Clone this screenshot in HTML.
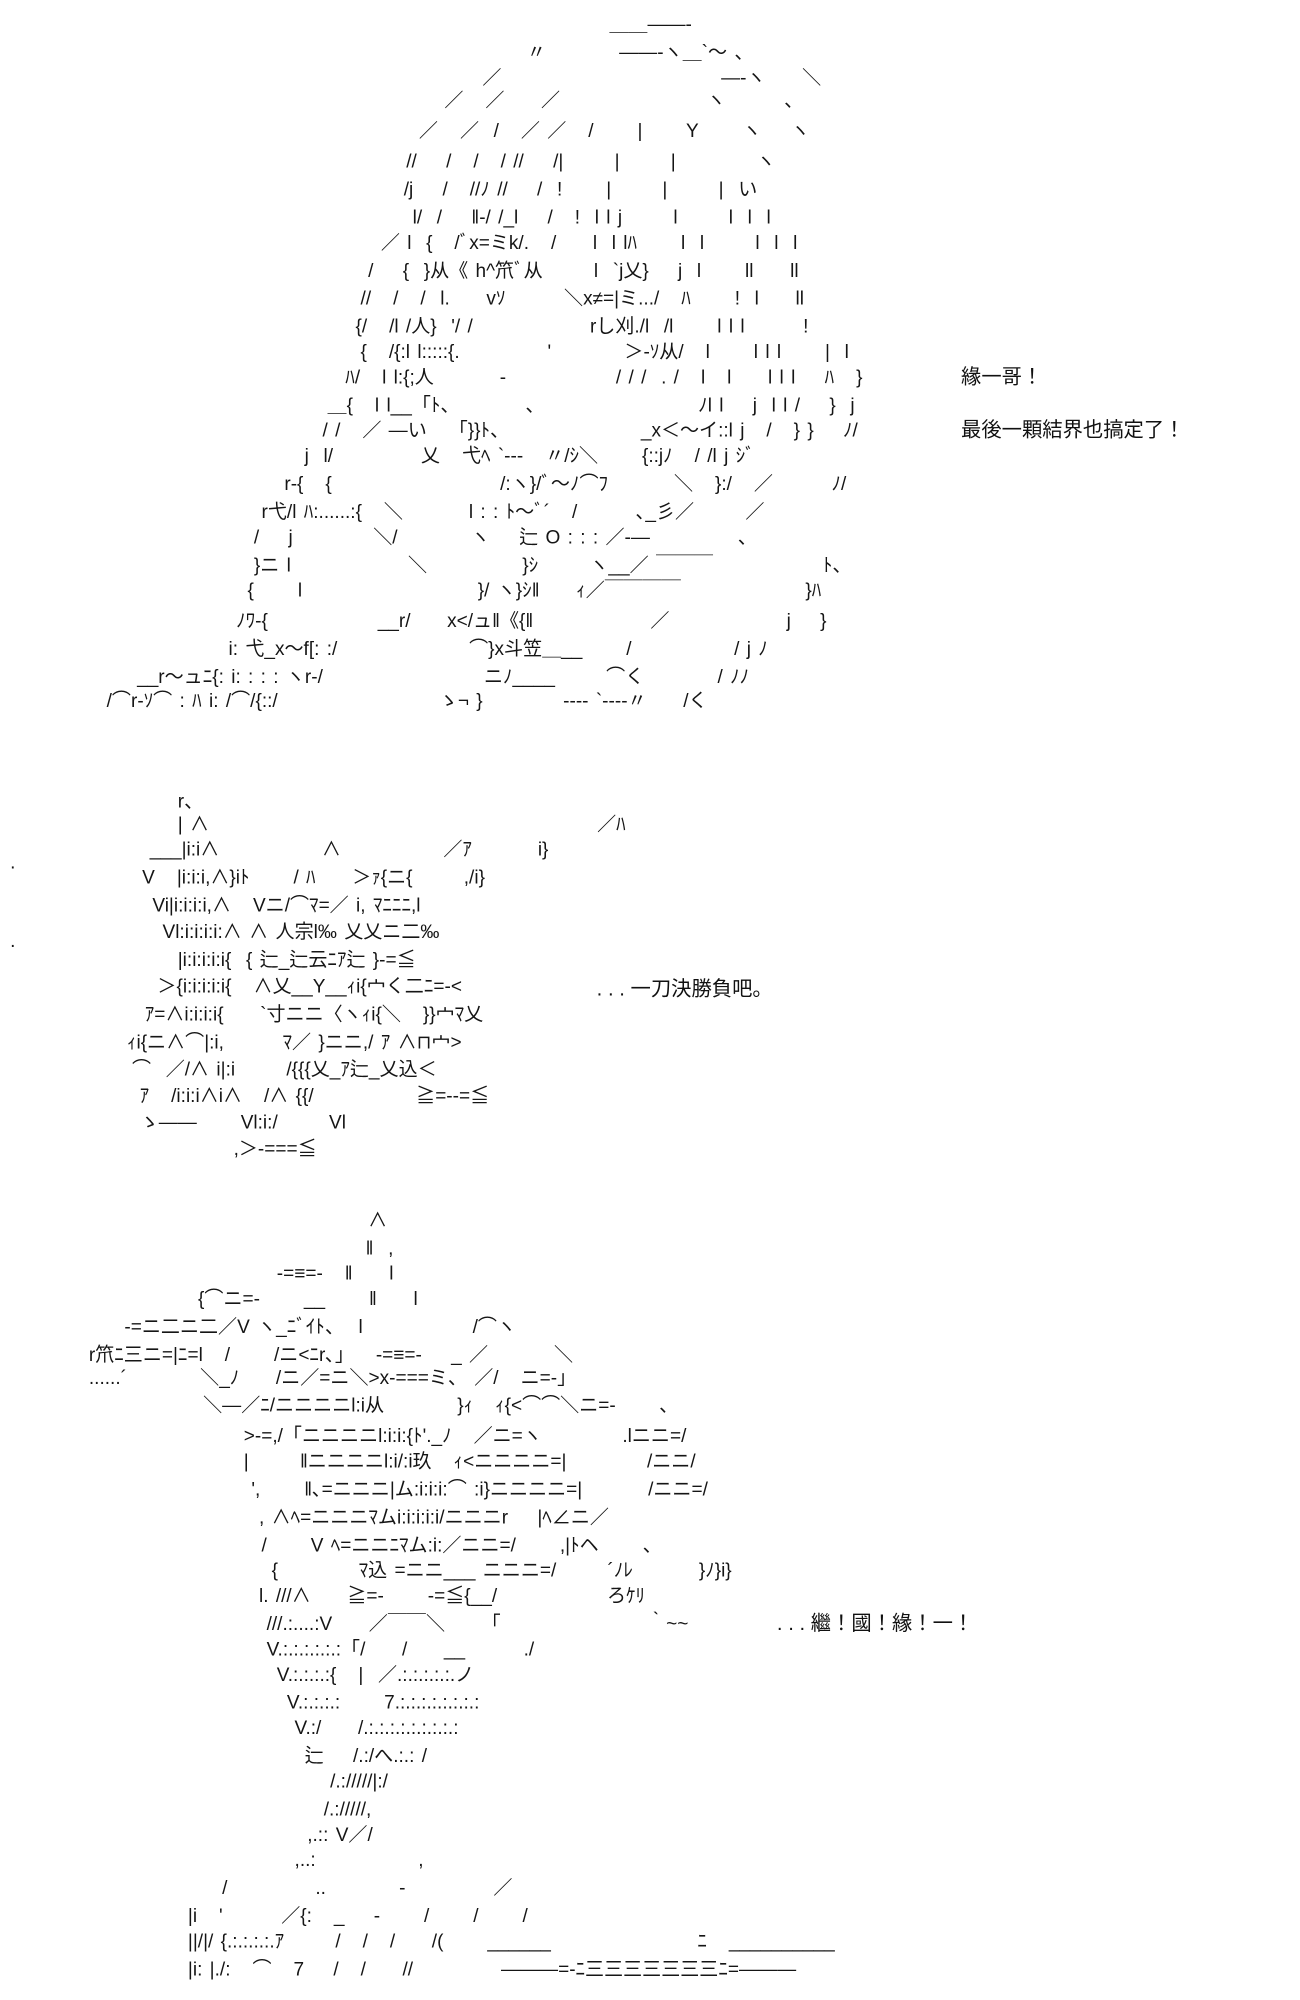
<!DOCTYPE html>
<html><head><meta charset="utf-8">
<style>
html,body{margin:0;padding:0;background:#fff;width:1300px;height:2000px;overflow:hidden}
#c{position:absolute;left:0;top:0;width:1024px;height:1575px;transform:scale(1.2695);transform-origin:0 0}
#c div{position:absolute;white-space:pre;font-family:"Liberation Sans","Noto Sans CJK JP",sans-serif;font-size:15px;line-height:16px;color:#151515;word-spacing:1.6px;transform:translateY(-8px)}
#c .t{font-size:16px;color:#111;word-spacing:0}
</style></head><body><div id="c">
<div style="left:480px;top:20px">＿＿――‐</div>
<div style="left:415px;top:42px">〃          ――‐ヽ＿`～ 、</div>
<div style="left:380px;top:62px">／                              ―‐ヽ     ＼</div>
<div style="left:350px;top:80px">／   ／     ／                    ヽ        、</div>
<div style="left:330px;top:104px">／   ／  /   ／ ／   /      |      Y      ヽ    ヽ</div>
<div style="left:320px;top:128px">//    /   /   / //    /|       |       |           ヽ</div>
<div style="left:318px;top:150px">/j    /   //ﾉ //    /  !      |       |       |  い</div>
<div style="left:325px;top:172px">l/  /    ‖-/ /_l    /   !  l l j       l       l  l  l</div>
<div style="left:300px;top:192px">／ l  {   /ﾞx=ミk/.   /     l  l lﾊ      l  l       l  l  l</div>
<div style="left:290px;top:214px">/    {  }从《 h^笊ﾞ从       l  `j乂}    j  l      ll     ll</div>
<div style="left:284px;top:236px">//   /   /  l.     vｿ        ＼x≠=|ミ.../   ﾊ      !  l     ll</div>
<div style="left:280px;top:258px">{/   /l /人}  '/ /                rし刈./l  /l      l l l        !</div>
<div style="left:284px;top:278px">{   /{:l l:::::{.            '          ＞-ｿ从/   l      l l l      |  l</div>
<div style="left:272px;top:298px">ﾊ/   l l:{;人         -               / / /  . /   l   l     l l l    ﾊ   }</div>
<div style="left:258px;top:320px">＿{   l l__「ﾄ、         、                     ﾉl l    j  l l /    }  j</div>
<div style="left:254px;top:340px">/ /   ／ ―い   「}}ﾄ、                  _x＜～イ::l j   /   } }    ﾉ/</div>
<div style="left:240px;top:360px">j  l/            乂   弋ﾍ `---   〃/ｼ＼      {::jﾉ   / /l j ｼﾞ</div>
<div style="left:224px;top:382px">r‐{   {                       /:ヽ}/ﾞ～ﾉ⌒ﾌ         ＼   }:/   ／        ﾉ/</div>
<div style="left:206px;top:404px">r弋/l ﾊ:......:{   ＼         l : : ﾄ～ﾞ´   /        ､_彡／       ／</div>
<div style="left:200px;top:424px">/    j           ＼/          ヽ    辷 O : : : ／‐―            、</div>
<div style="left:200px;top:446px">}ニ l                ＼             }ｼ       ヽ__／ ￣￣￣               ﾄ、</div>
<div style="left:195px;top:466px">{      l                        }/ ヽ}ｼ‖     ｨ／￣￣￣￣                 }ﾊ</div>
<div style="left:186px;top:490px">ﾉﾜ‐{               __r/     x&lt;/ュ‖《{‖                ／                j    }</div>
<div style="left:180px;top:512px">i: 弋_x～f[: :/                  ⌒}x斗笠＿__      /              / j ﾉ</div>
<div style="left:108px;top:534px">__r～ュﾆ{: i: : : : ヽr‐/                      ニﾉ____       ⌒く          / ﾉﾉ</div>
<div style="left:84px;top:553px">/⌒r‐ｿ⌒ : ﾊ i: /⌒/{::/                      ゝ¬ }           ---- `----〃     /く</div>

<div class="t" style="left:757px;top:298px">緣一哥！</div>
<div class="t" style="left:757px;top:340px">最後一顆結界也搞定了！</div>

<div style="left:8px;top:680px">.</div>
<div style="left:8px;top:742px">.</div>
<div style="left:140px;top:632px">r、</div>
<div style="left:140px;top:650px">| ∧                                                     ／ﾊ</div>
<div style="left:118px;top:670px">___|i:i∧              ∧              ／ｱ         i}</div>
<div style="left:112px;top:692px">V   |i:i:i,∧}iﾄ      / ﾊ     ＞ｧ{ニ{       ,/i}</div>
<div style="left:120px;top:714px">Vi|i:i:i:i,∧   Vニ/⌒ﾏ=／ i, ﾏﾆﾆﾆ,l</div>
<div style="left:128px;top:735px">Vl:i:i:i:i:∧ ∧ 人宗l‰ 乂乂ニ二‰</div>
<div style="left:140px;top:757px">|i:i:i:i:i{  { 辷_辷云ﾆｱ辷 }-=≦</div>
<div style="left:124px;top:778px">＞{i:i:i:i:i{   ∧乂__Y__ｨi{宀く二ﾆ=‐&lt;</div>
<div style="left:114px;top:800px">ｱ=∧i:i:i:i{     `寸ニニ〈ヽｨi{＼   }}宀ﾏ乂</div>
<div style="left:100px;top:822px">ｨi{ニ∧⌒|:i,        ﾏ／ }ニニ,/ ｱ ∧⊓宀&gt;</div>
<div style="left:104px;top:843px">⌒  ／/∧ i|:i       /{{{乂_ｱ辷_乂込＜</div>
<div style="left:110px;top:864px">ｱ   /i:i:i∧i∧   /∧ {{/              ≧=‐‐=≦</div>
<div style="left:110px;top:885px">ゝ――      Vl:i:/       Vl</div>
<div style="left:184px;top:906px">,＞-===≦</div>

<div class="t" style="left:470px;top:780px">. . . 一刀決勝負吧。</div>

<div style="left:290px;top:962px">∧</div>
<div style="left:288px;top:984px">‖  ,</div>
<div style="left:218px;top:1004px">-=≡=-   ‖     l</div>
<div style="left:156px;top:1024px">{⌒ニ=-      __      ‖     l</div>
<div style="left:98px;top:1046px">-=ニ二ニ二／V ヽ_ﾆﾞｲﾄ、  l               /⌒ヽ</div>
<div style="left:70px;top:1068px">r笊ﾆ三ニ=|ﾆ=l   /      /ニ&lt;ﾆr､」   -=≡=-    _ ／         ＼</div>
<div style="left:70px;top:1086px">......´          ＼_ﾉ     /ニ／=ニ＼&gt;x-===ミ、 ／/   ニ=-」</div>
<div style="left:160px;top:1108px">＼―／ﾆ/ニニニニl:i从          }ｨ   ｨ{&lt;⌒⌒＼ニ=-      ､</div>
<div style="left:192px;top:1132px">&gt;-=,/「ニニニニl:i:i:{ﾄ'._ﾉ   ／ニ=ヽ           .lニニ=/</div>
<div style="left:192px;top:1152px">|       ‖ニニニニl:i/:i玖   ｨ&lt;ニニニニ=|           /ニニ/</div>
<div style="left:198px;top:1174px">',      ‖､=ニニニ|ム:i:i:i:⌒ :i}ニニニニ=|         /ニニ=/</div>
<div style="left:204px;top:1196px">, ∧ﾍ=ニニニﾏムi:i:i:i:i/ニニニr    |ﾍ∠ニ／</div>
<div style="left:206px;top:1218px">/      V ﾍ=ニニﾆﾏム:i:／ニニ=/      ,|ﾄヘ      、</div>
<div style="left:214px;top:1238px">{           ﾏ込 =ニニ___ ニニニ=/       ´ﾉﾚ         }ﾉ}i}</div>
<div style="left:204px;top:1258px">l. ///∧     ≧=-      -=≦{__/               ろｹﾘ</div>
<div style="left:210px;top:1280px">///.:....:V     ／￣￣＼     「                    ｀~~</div>
<div style="left:210px;top:1300px">V.:.:.:.:.:.:「/     /     __        ./</div>
<div style="left:218px;top:1320px">V.:.:.:.:{   |  ／.:.:.:.:.:.ノ</div>
<div style="left:226px;top:1342px">V.:.:.:.:      7.:.:.:.:.:.:.:.:</div>
<div style="left:232px;top:1362px">V.:/     /.:.:.:.:.:.:.:.:.:</div>
<div style="left:240px;top:1384px">辷    /.:/へ.:.: /</div>
<div style="left:260px;top:1404px">/.://///|:/</div>
<div style="left:255px;top:1426px">/.://///,</div>
<div style="left:242px;top:1446px">,.:: V／/</div>
<div style="left:232px;top:1466px">,..:              ,</div>
<div style="left:175px;top:1488px">/            ..          -            ／</div>
<div style="left:148px;top:1510px">|i   '        ／{:   _    -      /      /      /</div>
<div style="left:148px;top:1530px">||/|/ {.:.:.:.:.ｱ       /   /   /     /(      ______                    ﾆ   __________</div>
<div style="left:148px;top:1552px">|i: |./:   ⌒   7    /   /     //            ―――=-ﾆ三三三三三三三ﾆ=―――</div>

<div class="t" style="left:612px;top:1280px">. . . 繼！國！緣！一！</div>
</div></body></html>
